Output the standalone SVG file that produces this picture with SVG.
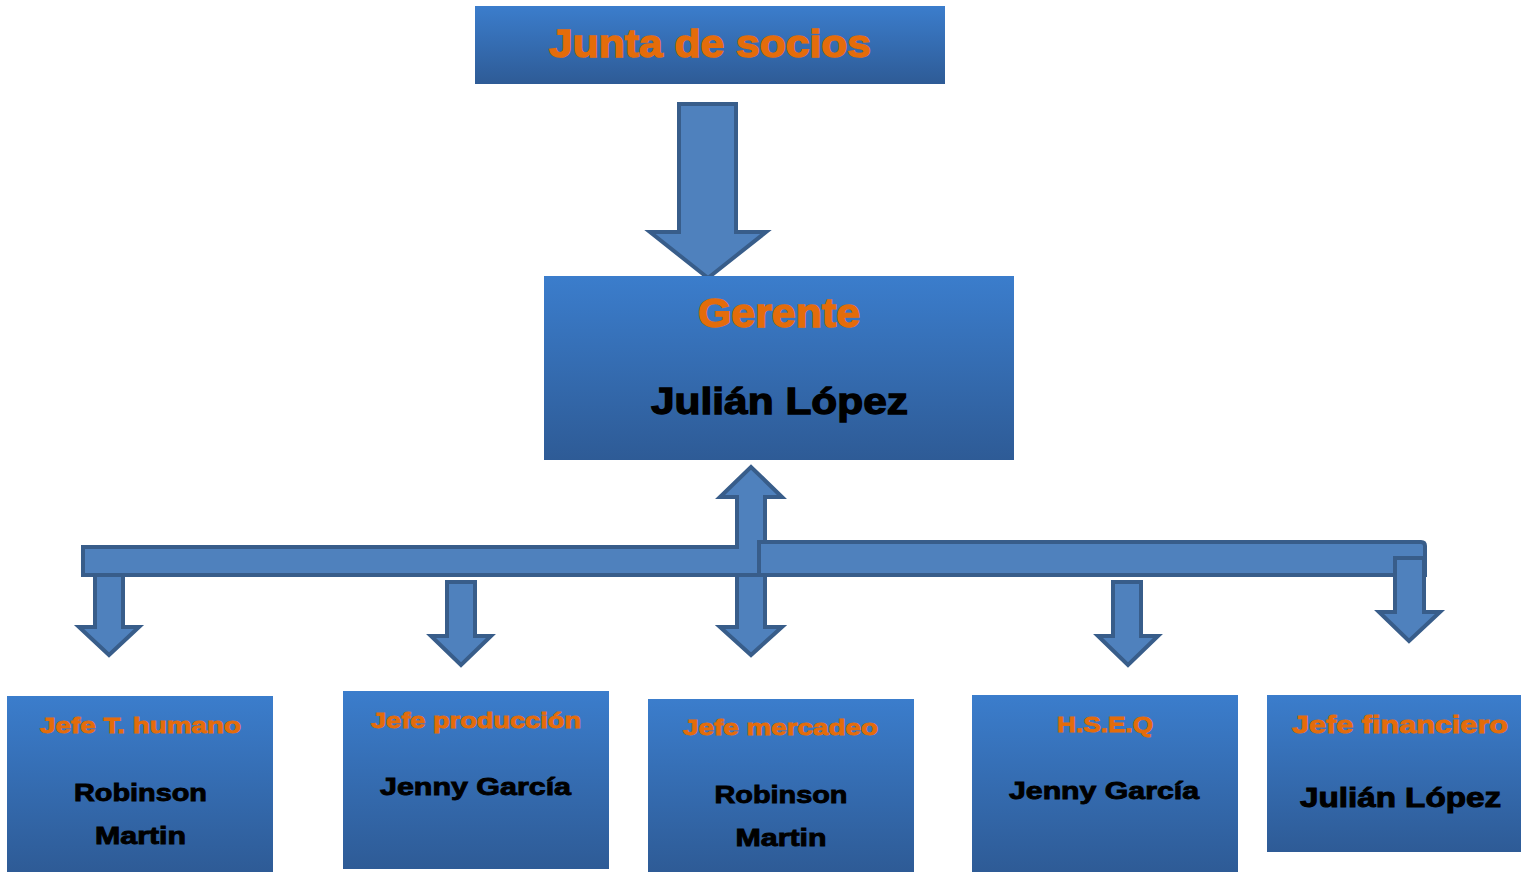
<svg xmlns="http://www.w3.org/2000/svg" width="1521" height="872" viewBox="0 0 1521 872">
<defs>
<linearGradient id="g" x1="0" y1="0" x2="0" y2="1">
<stop offset="0" stop-color="#3b7dcc"/>
<stop offset="1" stop-color="#2e5b96"/>
</linearGradient>
</defs>
<style>
.box{fill:url(#g);}
.arr{fill:#4f81bd;stroke:#385d8a;stroke-width:4;stroke-linejoin:miter;}
text{font-family:"Liberation Sans",Arial,sans-serif;font-weight:bold;text-anchor:middle;}
.t{fill:#e46c0a;stroke:#e46c0a;}
.n{fill:#000;stroke:#000;}
</style>
<rect width="1521" height="872" fill="#fff"/>
<g id="connectors">
<polygon class="arr" points="679,104 736,104 736,232 766,232 708,278 650,232 679,232"/>
<polygon class="arr" points="737,575 765,575 765,627 782,627 751,655 720,627 737,627"/>
<polygon class="arr" points="95,575 123,575 123,627 139,627 109,655 79,627 95,627"/>
<polygon class="arr" points="83,547 737,547 737,497 720,497 751,467 782,497 765,497 765,575 83,575"/>
<path class="arr" d="M759,542 H1421 Q1425,542 1425,546 V575 H759 Z"/>
<polygon class="arr" points="1395,558 1424,558 1424,612 1440,612 1409,641 1379,612 1395,612"/>
<polygon class="arr" points="447,582 475,582 475,636 491,636 461,665 431,636 447,636"/>
<polygon class="arr" points="1113,582 1141,582 1141,636 1158,636 1128,665 1098,636 1113,636"/>
</g>
<g id="junta">
<rect class="box" x="475" y="6" width="470" height="78"/>
<text class="t" x="710" y="57" font-size="38" stroke-width="1.4" textLength="322" lengthAdjust="spacingAndGlyphs">Junta de socios</text>
</g>
<g id="gerente">
<rect class="box" x="544" y="276" width="470" height="184"/>
<text class="t" x="779" y="327" font-size="40" stroke-width="1.4" textLength="162" lengthAdjust="spacingAndGlyphs">Gerente</text>
<text class="n" x="779.5" y="414" font-size="37" stroke-width="1.3" textLength="257" lengthAdjust="spacingAndGlyphs">Julián López</text>
</g>
<g id="jefe-humano">
<rect class="box" x="7" y="696" width="266" height="176"/>
<text class="t" x="140.5" y="733" font-size="22" stroke-width="0.9" textLength="201" lengthAdjust="spacingAndGlyphs">Jefe T. humano</text>
<text class="n" x="140.5" y="801" font-size="24" stroke-width="0.9" textLength="133" lengthAdjust="spacingAndGlyphs">Robinson</text>
<text class="n" x="140.5" y="844" font-size="24" stroke-width="0.9" textLength="91" lengthAdjust="spacingAndGlyphs">Martin</text>
</g>
<g id="jefe-produccion">
<rect class="box" x="343" y="691" width="266" height="178"/>
<text class="t" x="476" y="728" font-size="22" stroke-width="0.9" textLength="210" lengthAdjust="spacingAndGlyphs">Jefe producción</text>
<text class="n" x="475.5" y="795" font-size="24" stroke-width="0.9" textLength="191" lengthAdjust="spacingAndGlyphs">Jenny García</text>
</g>
<g id="jefe-mercadeo">
<rect class="box" x="648" y="699" width="266" height="173"/>
<text class="t" x="780.5" y="735" font-size="22" stroke-width="0.9" textLength="195" lengthAdjust="spacingAndGlyphs">Jefe mercadeo</text>
<text class="n" x="781" y="803" font-size="24" stroke-width="0.9" textLength="133" lengthAdjust="spacingAndGlyphs">Robinson</text>
<text class="n" x="781" y="846" font-size="24" stroke-width="0.9" textLength="91" lengthAdjust="spacingAndGlyphs">Martin</text>
</g>
<g id="hseq">
<rect class="box" x="972" y="695" width="266" height="177"/>
<text class="t" x="1105" y="732" font-size="22" stroke-width="0.9" textLength="96" lengthAdjust="spacingAndGlyphs">H.S.E.Q</text>
<text class="n" x="1104" y="799" font-size="24" stroke-width="0.9" textLength="190" lengthAdjust="spacingAndGlyphs">Jenny García</text>
</g>
<g id="jefe-financiero">
<rect class="box" x="1267" y="695" width="254" height="157"/>
<text class="t" x="1400" y="733" font-size="24" stroke-width="0.9" textLength="216" lengthAdjust="spacingAndGlyphs">Jefe financiero</text>
<text class="n" x="1400.5" y="807" font-size="27" stroke-width="1" textLength="201" lengthAdjust="spacingAndGlyphs">Julián López</text>
</g>
</svg>
